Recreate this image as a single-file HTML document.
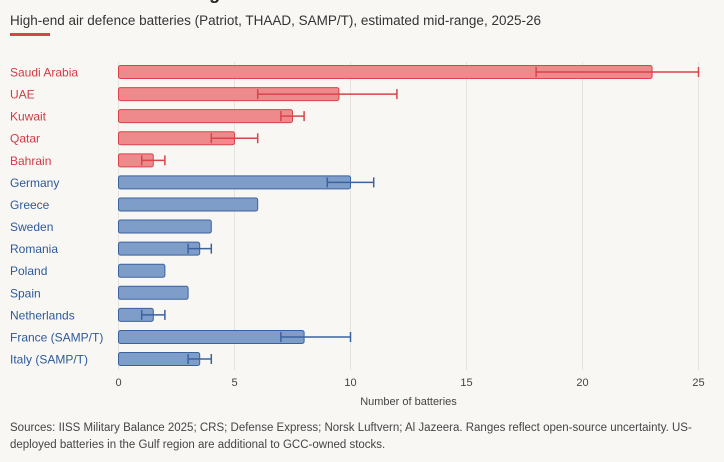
<!DOCTYPE html>
<html><head><meta charset="utf-8"><style>
body{margin:0;background:#f9f7f4;font-family:"Liberation Sans",sans-serif;}
#wrap{position:relative;width:724px;height:462px;overflow:hidden;background:#f9f7f4;}
</style></head><body>
<div id="wrap">
<div style="position:absolute;left:10px;top:-17px;font-size:18px;font-weight:bold;color:#222;">Gulf air defence coverage</div>
<div style="position:absolute;left:10px;top:13px;font-size:13.5px;color:#333;">High-end air defence batteries (Patriot, THAAD, SAMP/T), estimated mid-range, 2025-26</div>
<div style="position:absolute;left:10px;top:33px;width:40px;height:3px;background:#d9434a;"></div>
<svg id="chart" width="724" height="420" style="position:absolute;left:0;top:0"></svg>
<div style="position:absolute;left:10px;top:420px;width:700px;font-size:11.5px;line-height:17px;color:#444;">Sources: IISS Military Balance 2025; CRS; Defense Express; Norsk Luftvern; Al Jazeera. Ranges reflect open-source uncertainty. US-deployed batteries in the Gulf region are additional to GCC-owned stocks.</div>
</div>
<script>
const categories=["Saudi Arabia","UAE","Kuwait","Qatar","Bahrain","Germany","Greece","Sweden","Romania","Poland","Spain","Netherlands","France (SAMP/T)","Italy (SAMP/T)"];
const groups=["gulf","gulf","gulf","gulf","gulf","eu","eu","eu","eu","eu","eu","eu","eu","eu"];
const midValues=[23,9.5,7.5,5,1.5,10,6,4,3.5,2,3,1.5,8,3.5];
const lowValues=[18,6,7,4,1,9,null,null,3,null,null,1,7,3];
const highValues=[25,12,8,6,2,11,null,null,4,null,null,2,10,4];
const ticks=[0,5,10,15,20,25];
const NS="http://www.w3.org/2000/svg";
const svg=document.getElementById('chart');
const x0=118.5,x1=698.5,xmax=25;
const X=v=>x0+(x1-x0)*v/xmax;
const Y=i=>72+i*22.08;
function el(t,a){const e=document.createElementNS(NS,t);for(const k in a)e.setAttribute(k,a[k]);svg.appendChild(e);return e;}
ticks.forEach(t=>{
 const g=el('line',{x1:X(t),x2:X(t),y1:62,y2:370,stroke:'#e6e3de','stroke-width':1});
 
 
 const l=el('text',{x:X(t),y:386,'text-anchor':'middle','font-size':11,fill:'#444','font-family':'Liberation Sans, sans-serif'});
 l.textContent=t;
 
 
});
const at=el('text',{x:X(12.5),y:405,'text-anchor':'middle','font-size':11,fill:'#444','font-family':'Liberation Sans, sans-serif'});
at.textContent='Number of batteries';


categories.forEach((c,i)=>{
 const gulf=groups[i]==='gulf';
 const fill=gulf?'#ee8a8c':'#7f9dc9',stroke=gulf?'#d9434a':'#3a62a0',tc=gulf?'#d63a44':'#2d5a9a';
 const y=Y(i);
 const lb=el('text',{x:10,y:y+4.5,'font-size':12,fill:tc,'font-family':'Liberation Sans, sans-serif'});
 lb.textContent=c;
 
 
 const b=el('rect',{x:X(0),y:y-6.5,width:X(midValues[i])-X(0),height:13,rx:2,fill:fill,stroke:stroke,'stroke-width':1});
 
 
 if(lowValues[i]!=null){
  const e=el('path',{d:`M${X(lowValues[i])},${y}H${X(highValues[i])}M${X(lowValues[i])},${y-5}V${y+5}M${X(highValues[i])},${y-5}V${y+5}`,stroke:stroke,'stroke-width':1.5,fill:'none'});
  
  
 }
});
</script>
</body></html>
